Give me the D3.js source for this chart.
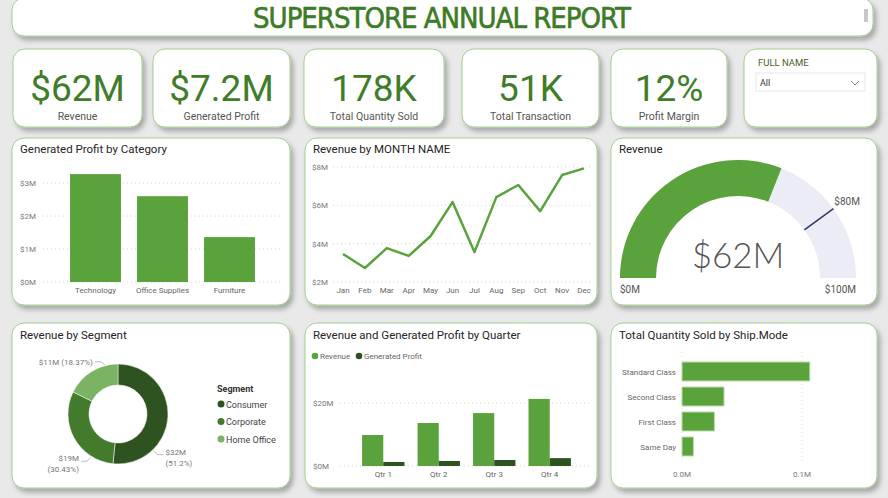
<!DOCTYPE html>
<html>
<head>
<meta charset="utf-8">
<script src="https://cdn.jsdelivr.net/npm/d3@7"></script>
<style>
body { margin: 0; background: #e9e9e9; }
svg { display: block; font-family: Roboto, "Noto Sans", sans-serif; }
</style>
</head>
<body>
<svg id="dash" width="888" height="498"></svg>
<script>
// ---- data ----
var kpiValues = ["$62M", "$7.2M", "178K", "51K", "12%"];
var kpiLabels = ["Revenue", "Generated Profit", "Total Quantity Sold", "Total Transaction", "Profit Margin"];

var categories = ["Technology", "Office Supplies", "Furniture"];
var categoryProfit = [3.27, 2.6, 1.36]; // $M

var months = ["Jan", "Feb", "Mar", "Apr", "May", "Jun", "Jul", "Aug", "Sep", "Oct", "Nov", "Dec"];
var monthRevenue = [3.46, 2.73, 3.77, 3.36, 4.4, 6.17, 3.56, 6.43, 7.06, 5.7, 7.58, 7.93]; // $M

var gaugeValue = 62, gaugeTarget = 80, gaugeMax = 100; // $M

var segments = ["Consumer", "Corporate", "Home Office"];
var segmentRevenue = [32, 19, 11]; // $M
var segmentShare = [51.2, 30.43, 18.37]; // %

var quarters = ["Qtr 1", "Qtr 2", "Qtr 3", "Qtr 4"];
var quarterRevenue = [9.84, 13.65, 16.8, 21.3]; // $M
var quarterProfit = [1.27, 1.6, 1.9, 2.5]; // $M

var shipModes = ["Standard Class", "Second Class", "First Class", "Same Day"];
var shipQty = [106500, 35000, 27000, 9500];

// ---- drawing ----
var green = "#5aa23c", dark = "#2e5320", kpiGreen = "#3f7d29";
var svg = d3.select("#dash");

var defs = svg.append("defs");
defs.append("filter").attr("id", "sh").attr("x", "-10%").attr("y", "-10%").attr("width", "130%").attr("height", "140%")
    .append("feDropShadow").attr("dx", 3).attr("dy", 4).attr("stdDeviation", 2.5)
    .attr("flood-color", "#000").attr("flood-opacity", 0.28);

function card(x, y, w, h) {
    svg.append("rect").attr("x", x).attr("y", y).attr("width", w).attr("height", h)
        .attr("rx", 12).attr("fill", "#fff").attr("stroke", "#a3cf8f").attr("stroke-width", 1)
        .attr("filter", "url(#sh)");
}
function panelTitle(x, y, t) {
    svg.append("text").attr("x", x).attr("y", y).attr("font-size", 11.5)
        .attr("fill", "#252423").text(t);
}
function grid(x1, x2, y) {
    svg.append("line").attr("x1", x1).attr("x2", x2).attr("y1", y).attr("y2", y)
        .attr("stroke", "#d4d4d4").attr("stroke-dasharray", "1,3");
}

// title bar
card(12, -2, 861, 38);
svg.append("text").attr("x", 442).attr("y", 28).attr("text-anchor", "middle")
    .attr("font-family", "'Liberation Sans Narrow', 'DejaVu Sans Condensed', sans-serif")
    .attr("font-size", 29).attr("fill", "#3e7b27").attr("stroke", "#3e7b27").attr("stroke-width", 0.6)
    .attr("textLength", 378).text("SUPERSTORE ANNUAL REPORT");
svg.append("rect").attr("x", 864).attr("y", 9).attr("width", 4).attr("height", 13).attr("fill", "#c8c8c8");

// KPI cards
var kpiBoxes = [[13, 129], [153, 137], [304, 140], [462, 137], [611, 116]];
kpiBoxes.forEach(function (b, i) {
    card(b[0], 49, b[1], 78);
    var cx = b[0] + b[1] / 2;
    svg.append("text").attr("x", cx).attr("y", 101).attr("text-anchor", "middle")
        .attr("font-size", 37).attr("fill", kpiGreen).text(kpiValues[i]);
    svg.append("text").attr("x", cx).attr("y", 120).attr("text-anchor", "middle")
        .attr("font-size", 10.5).attr("fill", "#555").text(kpiLabels[i]);
});

// slicer
card(744, 49, 133, 78);
svg.append("text").attr("x", 758).attr("y", 66).attr("font-size", 9.5)
    .attr("fill", "#4b5e2c").text("FULL NAME");
svg.append("rect").attr("x", 756).attr("y", 73).attr("width", 109).attr("height", 18)
    .attr("fill", "#fff").attr("stroke", "#e8e8e8");
svg.append("text").attr("x", 760).attr("y", 86).attr("font-size", 9).attr("fill", "#333").text("All");
svg.append("path").attr("d", "M851,81 L855,85 L859,81").attr("fill", "none").attr("stroke", "#888");

// panels
card(12, 138, 278, 167);
card(305, 138, 292, 167);
card(611, 138, 266, 167);
card(12, 323, 278, 165);
card(305, 323, 292, 165);
card(611, 323, 266, 165);

// 1. Generated Profit by Category
panelTitle(20, 153, "Generated Profit by Category");
var x1 = d3.scaleBand().domain(categories).range([62, 263]).paddingInner(0.24).paddingOuter(0.12);
var y1 = d3.scaleLinear().domain([0, 3]).range([282, 183]);
y1.ticks(3).forEach(function (t) {
    grid(43, 283, y1(t));
    svg.append("text").attr("x", 20).attr("y", y1(t) + 3).attr("font-size", 8).attr("fill", "#777").text("$" + t + "M");
});
svg.selectAll(".cat").data(categories).enter().append("rect").attr("class", "cat")
    .attr("x", function (d) { return x1(d); }).attr("width", x1.bandwidth())
    .attr("y", function (d, i) { return y1(categoryProfit[i]); })
    .attr("height", function (d, i) { return y1(0) - y1(categoryProfit[i]); })
    .attr("fill", green);
svg.selectAll(".catl").data(categories).enter().append("text").attr("class", "catl")
    .attr("x", function (d) { return x1(d) + x1.bandwidth() / 2; }).attr("y", 293)
    .attr("text-anchor", "middle").attr("font-size", 8).attr("fill", "#666").text(function (d) { return d; });

// 2. Revenue by MONTH NAME
panelTitle(313, 153, "Revenue by MONTH NAME");
var x2 = d3.scalePoint().domain(months).range([343, 584]);
var y2 = d3.scaleLinear().domain([2, 8]).range([282, 167]);
[2, 4, 6, 8].forEach(function (t) {
    grid(333, 592, y2(t));
    svg.append("text").attr("x", 312).attr("y", y2(t) + 3).attr("font-size", 8).attr("fill", "#777").text("$" + t + "M");
});
svg.append("path").datum(monthRevenue)
    .attr("d", d3.line().x(function (d, i) { return x2(months[i]); }).y(function (d) { return y2(d); }))
    .attr("fill", "none").attr("stroke", green).attr("stroke-width", 2.5).attr("stroke-linejoin", "round");
months.forEach(function (m) {
    svg.append("text").attr("x", x2(m)).attr("y", 293).attr("text-anchor", "middle")
        .attr("font-size", 8).attr("fill", "#666").text(m);
});

// 3. Revenue gauge
panelTitle(619, 153, "Revenue");
var gcx = 738, gcy = 278, gro = 118, gri = 82;
var ga = d3.scaleLinear().domain([0, gaugeMax]).range([-Math.PI / 2, Math.PI / 2]);
var garc = d3.arc().innerRadius(gri).outerRadius(gro);
var gg = svg.append("g").attr("transform", "translate(" + gcx + "," + gcy + ")");
gg.append("path").attr("d", garc({ startAngle: ga(0), endAngle: ga(gaugeMax) })).attr("fill", "#ececf6");
gg.append("path").attr("d", garc({ startAngle: ga(0), endAngle: ga(gaugeValue) })).attr("fill", green);
var ta = ga(gaugeTarget);
gg.append("line").attr("x1", gri * Math.sin(ta)).attr("y1", -gri * Math.cos(ta))
    .attr("x2", gro * Math.sin(ta)).attr("y2", -gro * Math.cos(ta))
    .attr("stroke", "#2c3766").attr("stroke-width", 1.5);
svg.append("text").attr("x", gcx + (gro + 1) * Math.sin(ta)).attr("y", gcy - (gro + 1) * Math.cos(ta) - 3)
    .attr("font-size", 10).attr("fill", "#555").text("$" + gaugeTarget + "M");
svg.append("text").attr("x", gcx).attr("y", 268).attr("text-anchor", "middle")
    .attr("font-family", "Lato, 'Open Sans', sans-serif").attr("font-weight", 300)
    .attr("font-size", 35).attr("fill", "#555").text("$" + gaugeValue + "M");
svg.append("text").attr("x", gcx - gro).attr("y", 293).attr("font-size", 10).attr("fill", "#555").text("$0M");
svg.append("text").attr("x", gcx + gro).attr("y", 293).attr("text-anchor", "end")
    .attr("font-size", 10).attr("fill", "#555").text("$" + gaugeMax + "M");

// 4. Revenue by Segment (donut)
panelTitle(20, 339, "Revenue by Segment");
var segColors = ["#2e5320", "#437a2c", "#79b363"];
var dcx = 118, dcy = 414, dro = 50, dri = 29;
var pie = d3.pie().sort(null).value(function (d) { return d; });
var darc = d3.arc().innerRadius(dri).outerRadius(dro);
var dg = svg.append("g").attr("transform", "translate(" + dcx + "," + dcy + ")");
dg.selectAll("path").data(pie(segmentRevenue)).enter().append("path")
    .attr("d", darc).attr("fill", function (d, i) { return segColors[i]; })
    .attr("stroke", "#fff").attr("stroke-width", 0.5);
// label anchors (degrees, clockwise from top) and which side the label sits on
var leaderAngle = [136, 212, 345];
var leaderSide = [1, -1, -1];
segments.forEach(function (s, i) {
    var a = leaderAngle[i] * Math.PI / 180, sd = leaderSide[i];
    var px = dcx + (dro + 1) * Math.sin(a), py = dcy - (dro + 1) * Math.cos(a);
    var kx = px + sd * 4, ky = py + (i == 2 ? -3 : 4);
    var ex = kx + sd * 6;
    svg.append("polyline").attr("points", [px, py, kx, ky, ex, ky].join(","))
        .attr("fill", "none").attr("stroke", "#bbb").attr("stroke-width", 1);
    var amt = "$" + segmentRevenue[i] + "M", pct = "(" + segmentShare[i] + "%)";
    var anchor = sd > 0 ? "start" : "end", tx = ex + sd * 2;
    if (i == 2) {
        svg.append("text").attr("x", tx).attr("y", ky + 3).attr("text-anchor", anchor)
            .attr("font-size", 8).attr("fill", "#777").text(amt + " " + pct);
    } else {
        svg.append("text").attr("x", tx).attr("y", ky).attr("text-anchor", anchor)
            .attr("font-size", 8).attr("fill", "#777").text(amt);
        svg.append("text").attr("x", tx).attr("y", ky + 11).attr("text-anchor", anchor)
            .attr("font-size", 8).attr("fill", "#777").text(pct);
    }
});
svg.append("text").attr("x", 217).attr("y", 392).attr("font-size", 9).attr("font-weight", 700)
    .attr("fill", "#333").text("Segment");
segments.forEach(function (s, i) {
    var ly = 404 + i * 17.5;
    svg.append("circle").attr("cx", 221).attr("cy", ly).attr("r", 3.5).attr("fill", segColors[i]);
    svg.append("text").attr("x", 226).attr("y", ly + 3.5).attr("font-size", 9).attr("fill", "#444").text(s);
});

// 5. Revenue and Generated Profit by Quarter
panelTitle(313, 339, "Revenue and Generated Profit by Quarter");
var seriesNames = ["Revenue", "Generated Profit"];
var seriesColors = [green, dark];
svg.append("circle").attr("cx", 315).attr("cy", 356).attr("r", 3.3).attr("fill", green);
svg.append("text").attr("x", 320).attr("y", 359).attr("font-size", 8).attr("fill", "#666").text(seriesNames[0]);
svg.append("circle").attr("cx", 359).attr("cy", 356).attr("r", 3.3).attr("fill", dark);
svg.append("text").attr("x", 364).attr("y", 359).attr("font-size", 8).attr("fill", "#666").text(seriesNames[1]);
var x5 = d3.scaleBand().domain(quarters).range([351, 582]).paddingInner(0.236).paddingOuter(0.2);
var x5s = d3.scaleBand().domain(seriesNames).range([0, x5.bandwidth()]);
var y5 = d3.scaleLinear().domain([0, 20]).range([466, 403]);
[0, 20].forEach(function (t) {
    grid(340, 592, y5(t));
    svg.append("text").attr("x", 313).attr("y", y5(t) + 3).attr("font-size", 8).attr("fill", "#777").text("$" + t + "M");
});
quarters.forEach(function (q, i) {
    [quarterRevenue[i], quarterProfit[i]].forEach(function (v, j) {
        svg.append("rect").attr("x", x5(q) + x5s(seriesNames[j])).attr("width", x5s.bandwidth())
            .attr("y", y5(v)).attr("height", y5(0) - y5(v)).attr("fill", seriesColors[j]);
    });
    svg.append("text").attr("x", x5(q) + x5.bandwidth() / 2).attr("y", 477).attr("text-anchor", "middle")
        .attr("font-size", 8).attr("fill", "#666").text(q);
});

// 6. Total Quantity Sold by Ship.Mode
panelTitle(619, 339, "Total Quantity Sold by Ship.Mode");
var y6 = d3.scaleBand().domain(shipModes).range([359, 459]).paddingInner(0.24).paddingOuter(0.12);
var x6 = d3.scaleLinear().domain([0, 100000]).range([682, 802]);
[0, 100000].forEach(function (t) {
    svg.append("line").attr("x1", x6(t)).attr("x2", x6(t)).attr("y1", 352).attr("y2", 462)
        .attr("stroke", "#e2e2e2").attr("stroke-dasharray", "1,3");
    svg.append("text").attr("x", x6(t)).attr("y", 477).attr("text-anchor", "middle")
        .attr("font-size", 8).attr("fill", "#777").text(d3.format(".1f")(t / 1e6) + "M");
});
svg.selectAll(".ship").data(shipModes).enter().append("rect").attr("class", "ship")
    .attr("x", x6(0)).attr("y", function (d) { return y6(d); })
    .attr("width", function (d, i) { return x6(shipQty[i]) - x6(0); }).attr("height", y6.bandwidth())
    .attr("fill", green).attr("stroke", "#b9dca8").attr("stroke-width", 1);
shipModes.forEach(function (s) {
    svg.append("text").attr("x", 676).attr("y", y6(s) + y6.bandwidth() / 2 + 3).attr("text-anchor", "end")
        .attr("font-size", 8).attr("fill", "#666").text(s);
});
</script>
</body>
</html>
